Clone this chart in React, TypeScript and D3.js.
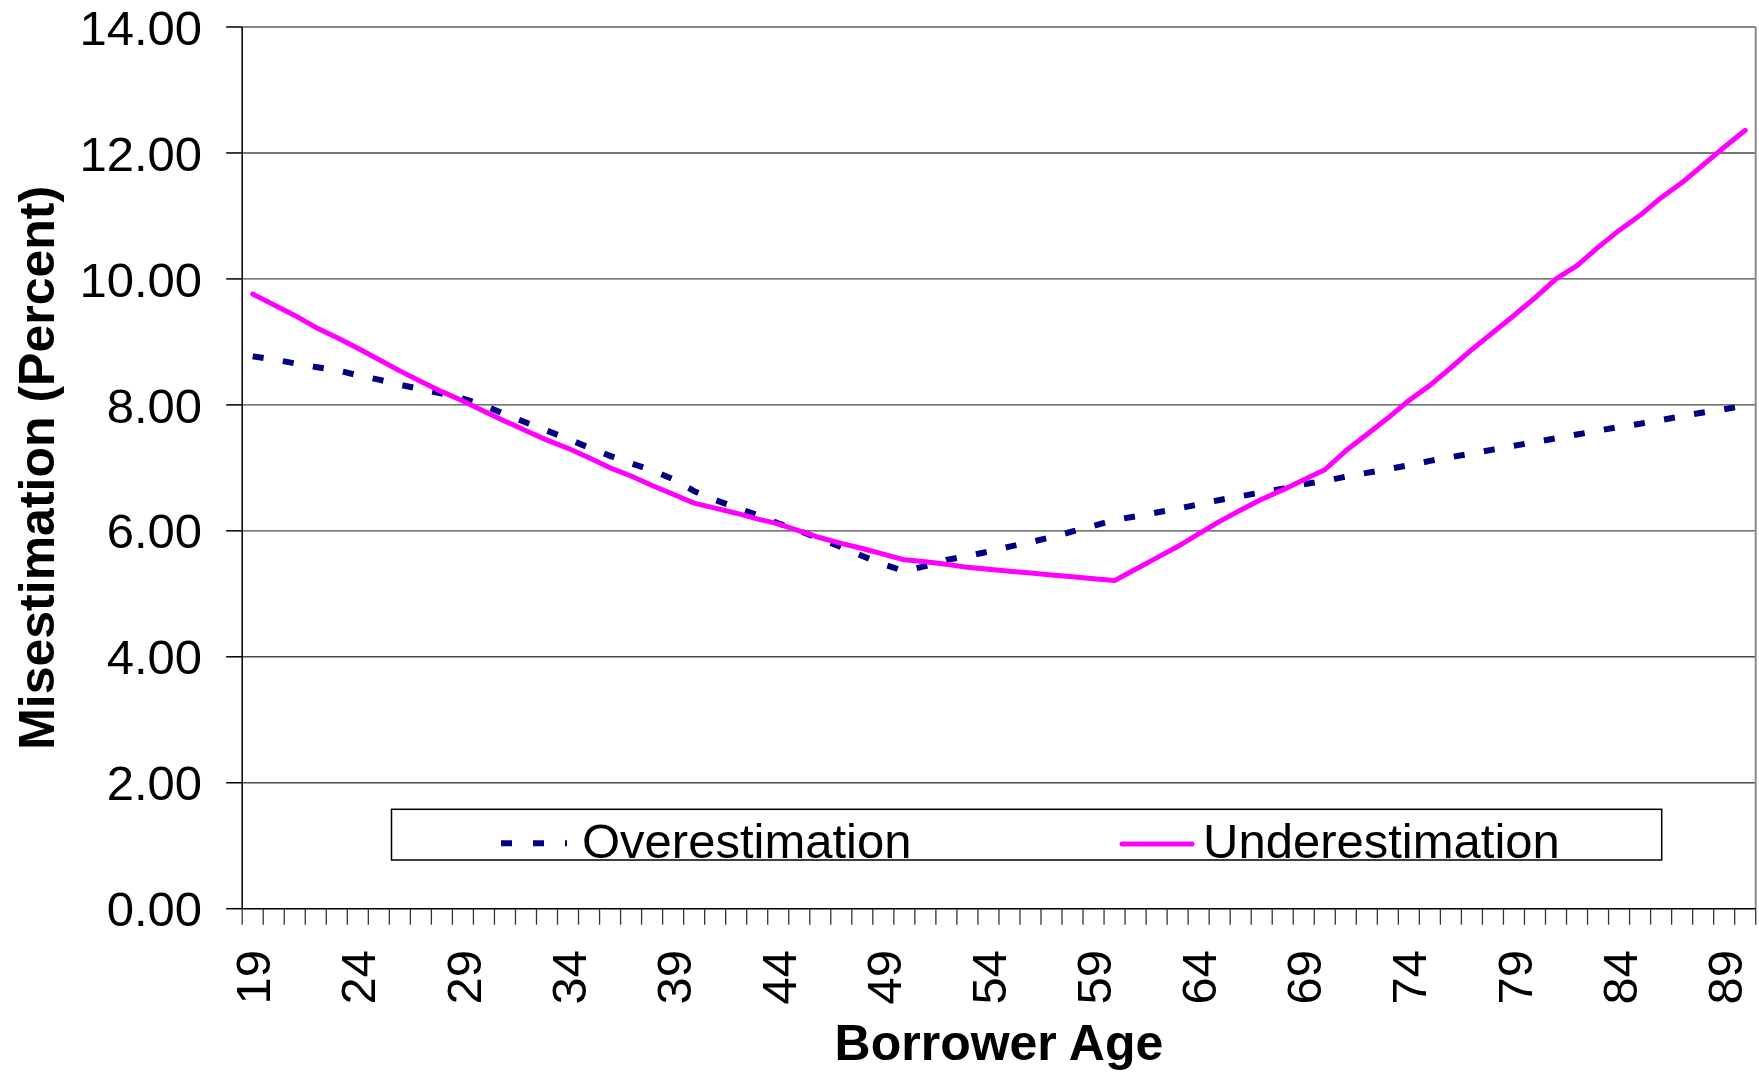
import React, { useEffect } from "react";
import * as d3 from "d3";

// Borrower age categories (one per year of age)
const ages: number[] = [
  19, 20, 21, 22, 23, 24, 25, 26, 27, 28, 29, 30, 31, 32, 33, 34, 35, 36,
  37, 38, 39, 40, 41, 42, 43, 44, 45, 46, 47, 48, 49, 50, 51, 52, 53, 54,
  55, 56, 57, 58, 59, 60, 61, 62, 63, 64, 65, 66, 67, 68, 69, 70, 71, 72,
  73, 74, 75, 76, 77, 78, 79, 80, 81, 82, 83, 84, 85, 86, 87, 88, 89, 90,
];

// Misestimation (percent) by age
const overestimation: number[] = [
  8.77, 8.72, 8.66, 8.6, 8.55, 8.47, 8.4, 8.32, 8.25, 8.18, 8.1, 7.99, 7.85,
  7.72, 7.59, 7.46, 7.32, 7.19, 7.07, 6.96, 6.82, 6.63, 6.49, 6.37, 6.25, 6.12,
  6.0, 5.87, 5.74, 5.6, 5.47, 5.36, 5.44, 5.54, 5.6, 5.67, 5.75, 5.82, 5.9,
  5.99, 6.08, 6.17, 6.23, 6.29, 6.35, 6.42, 6.49, 6.55, 6.61, 6.67, 6.74, 6.79,
  6.86, 6.92, 6.98, 7.04, 7.11, 7.17, 7.23, 7.29, 7.35, 7.41, 7.47, 7.53, 7.59,
  7.65, 7.7, 7.76, 7.82, 7.88, 7.93, 7.99,
];

const underestimation: number[] = [
  9.76, 9.59, 9.42, 9.23, 9.07, 8.9, 8.72, 8.54, 8.37, 8.21, 8.06, 7.9, 7.74,
  7.59, 7.44, 7.31, 7.16, 7.0, 6.87, 6.72, 6.58, 6.44, 6.36, 6.28, 6.19, 6.11,
  6.0, 5.89, 5.8, 5.72, 5.63, 5.54, 5.51, 5.47, 5.42, 5.39, 5.36, 5.33, 5.3,
  5.27, 5.24, 5.21, 5.39, 5.57, 5.75, 5.95, 6.15, 6.33, 6.5, 6.65, 6.81, 6.97,
  7.27, 7.53, 7.79, 8.07, 8.31, 8.59, 8.88, 9.15, 9.42, 9.7, 10.0, 10.21, 10.5,
  10.77, 11.01, 11.29, 11.53, 11.81, 12.09, 12.36,
];

// Axis ticks
const yTicks: number[] = [0, 2, 4, 6, 8, 10, 12, 14];
const xLabelAges: number[] = [19, 24, 29, 34, 39, 44, 49, 54, 59, 64, 69, 74, 79, 84, 89];

const W = 1759;
const H = 1072;
const left = 242.2;
const right = 1755.7;
const top = 27;
const bottom = 908.7;

const FONT = "'Liberation Sans', Arial, sans-serif";

export default function App() {
  useEffect(() => {
    document.body.style.margin = "0";
    document.body.style.overflow = "hidden";
  }, []);

  const x = d3.scaleBand<number>().domain(ages).range([left, right]).padding(0);
  const y = d3.scaleLinear().domain([0, 14]).range([bottom, top]);
  const fmt = d3.format(".2f");
  const cx = (a: number) => (x(a) as number) + x.bandwidth() / 2;

  const line = d3
    .line<number>()
    .x((_, i) => cx(ages[i]))
    .y((v) => y(v));

  const boundaries = ages.map((a) => x(a) as number).concat([right]);

  return (
    <svg
      width={W}
      height={H}
      style={{ position: "absolute", left: 0, top: 0, background: "#fff" }}
    >
      <rect x={0} y={0} width={W} height={H} fill="#fff" />

      {/* horizontal gridlines */}
      {yTicks.slice(1, -1).map((t) => (
        <line
          key={"g" + t}
          x1={left}
          x2={right}
          y1={y(t)}
          y2={y(t)}
          stroke="#4a4a4a"
          strokeWidth={1.4}
        />
      ))}
      {/* plot frame: top and right */}
      <line x1={left} x2={right} y1={top} y2={top} stroke="#888" strokeWidth={2} />
      <line x1={right} x2={right} y1={top} y2={bottom} stroke="#888" strokeWidth={2} />

      {/* y axis */}
      <line x1={left} x2={left} y1={top} y2={bottom} stroke="#000" strokeWidth={1.5} />
      {yTicks.map((t) => (
        <g key={"y" + t}>
          <line x1={left - 16} x2={left} y1={y(t)} y2={y(t)} stroke="#000" strokeWidth={1.5} />
          <text
            x={202}
            y={y(t)}
            dy="0.36em"
            textAnchor="end"
            fontFamily={FONT}
            fontSize={49}
            fill="#000"
          >
            {fmt(t)}
          </text>
        </g>
      ))}

      {/* x axis */}
      <line x1={left} x2={right} y1={bottom} y2={bottom} stroke="#000" strokeWidth={1.5} />
      {boundaries.map((bx, i) => (
        <line
          key={"xt" + i}
          x1={bx}
          x2={bx}
          y1={bottom}
          y2={bottom + 16}
          stroke="#333"
          strokeWidth={1.3}
        />
      ))}
      {xLabelAges.map((a) => (
        <text
          key={"xl" + a}
          transform={`translate(${cx(a)},${950}) rotate(-90)`}
          dy="0.36em"
          textAnchor="end"
          fontFamily={FONT}
          fontSize={49}
          fill="#000"
        >
          {a}
        </text>
      ))}

      {/* series */}
      <path
        d={line(overestimation) || ""}
        fill="none"
        stroke="#000080"
        strokeWidth={6}
        strokeDasharray="11,19.5"
      />
      <path
        d={line(underestimation) || ""}
        fill="none"
        stroke="#FF00FF"
        strokeWidth={5}
        strokeLinecap="round"
        strokeLinejoin="round"
      />

      {/* legend */}
      <rect x={391.5} y={809.3} width={1270.2} height={50.7} fill="#fff" stroke="#000" strokeWidth={1.5} />
      <line
        x1={501}
        x2={567}
        y1={843.3}
        y2={843.3}
        stroke="#000080"
        strokeWidth={6}
        strokeDasharray="11,21"
      />
      <text x={582} y={858} fontFamily={FONT} fontSize={49} fill="#000">
        Overestimation
      </text>
      <line
        x1={1122}
        x2={1192}
        y1={844}
        y2={844}
        stroke="#FF00FF"
        strokeWidth={5}
        strokeLinecap="round"
      />
      <text x={1203} y={858} fontFamily={FONT} fontSize={49} fill="#000">
        Underestimation
      </text>

      {/* axis titles */}
      <text
        x={(left + right) / 2}
        y={1060}
        textAnchor="middle"
        fontFamily={FONT}
        fontWeight="bold"
        fontSize={50}
        fill="#000"
      >
        Borrower Age
      </text>
      <text
        transform={`translate(${53.6},${(top + bottom) / 2}) rotate(-90)`}
        textAnchor="middle"
        fontFamily={FONT}
        fontWeight="bold"
        fontSize={50}
        fill="#000"
      >
        Misestimation (Percent)
      </text>
    </svg>
  );
}
